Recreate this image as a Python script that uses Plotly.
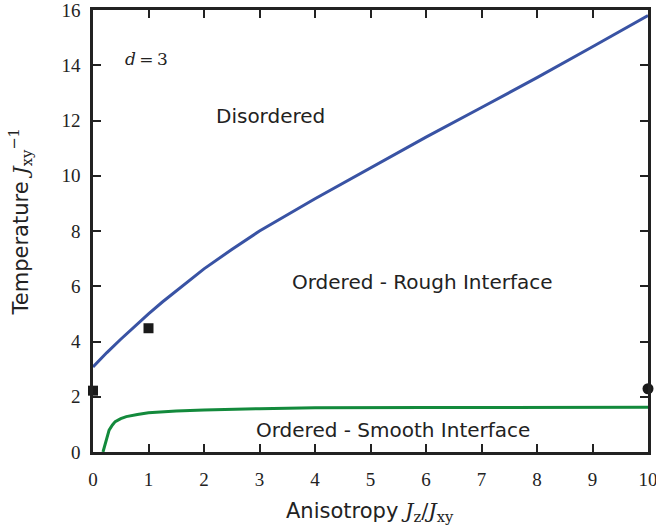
import plotly.graph_objects as go

# Data
blue_x = [0, 0.25, 0.5, 0.75, 1, 1.25, 1.5, 2, 2.5, 3, 4, 5, 6, 7, 8, 9, 10]
blue_y = [3.08, 3.6, 4.08, 4.55, 5.0, 5.43, 5.84, 6.63, 7.33, 8.0, 9.17, 10.3, 11.4, 12.47, 13.55, 14.67, 15.8]

green_x = [0.18, 0.29, 0.35, 0.4, 0.5, 0.6, 0.8, 1, 1.5, 2, 3, 4, 6, 8, 10]
green_y = [0.0, 0.79, 0.98, 1.1, 1.21, 1.28, 1.36, 1.42, 1.48, 1.52, 1.57, 1.6, 1.61, 1.62, 1.62]

sq_x = [0, 1]
sq_y = [2.22, 4.48]
circ_x = [10]
circ_y = [2.29]

x_ticks = list(range(0, 11))
y_ticks = list(range(0, 17, 2))

labels = [
    ("<i>d</i>\u2009=\u20093", 0.97, 14.23, "DejaVu Serif", 17),
    ("Disordered", 3.2, 12.18, "DejaVu Sans", 20),
    ("Ordered - Rough Interface", 5.93, 6.16, "DejaVu Sans", 20),
    ("Ordered - Smooth Interface", 5.4, 0.79, "DejaVu Sans", 20),
]

INK = "#222222"

fig = go.Figure()
fig.add_trace(go.Scatter(x=blue_x, y=blue_y, mode="lines", line=dict(color="#3953a4", width=3)))
fig.add_trace(go.Scatter(x=green_x, y=green_y, mode="lines", line=dict(color="#138a3c", width=3)))
fig.add_trace(go.Scatter(x=sq_x, y=sq_y, mode="markers", marker=dict(symbol="square", size=10, color="#1a1a1a"), cliponaxis=False))
fig.add_trace(go.Scatter(x=circ_x, y=circ_y, mode="markers", marker=dict(symbol="circle", size=11, color="#1a1a1a"), cliponaxis=False))

for text, x, y, fam, size in labels:
    fig.add_annotation(x=x, y=y, text=text, showarrow=False, xanchor="center", yanchor="middle",
                       font=dict(family=fam, size=size, color=INK))

serif = "font-family:'DejaVu Serif'"
fig.add_annotation(
    xref="paper", yref="paper", x=0.499, y=-0.135, xanchor="center", yanchor="middle", showarrow=False,
    text=f"Anisotropy <span style=\"{serif}\"><i>J</i><sub>z</sub>/<i>J</i><sub>xy</sub></span>",
    font=dict(family="DejaVu Sans", size=21, color=INK),
)
fig.add_annotation(
    xref="paper", yref="paper", x=-0.131, y=0.52, xanchor="center", yanchor="middle", showarrow=False,
    textangle=-90,
    text=f"Temperature <span style=\"{serif}\"><i>J</i><sub>xy</sub><sup>\u22121</sup></span>",
    font=dict(family="DejaVu Sans", size=21, color=INK),
)

axis_common = dict(
    showline=True, linecolor=INK, linewidth=2.5, mirror="ticks",
    ticks="inside", ticklen=8, tickwidth=1.5, tickcolor=INK,
    showgrid=False, zeroline=False, automargin=False,
    ticklabeloverflow="allow",
    tickfont=dict(family="Liberation Serif", size=19, color=INK),
)

fig.update_layout(
    width=656, height=532,
    margin=dict(l=93, r=8, t=10, b=80),
    plot_bgcolor="white", paper_bgcolor="white",
    showlegend=False,
    xaxis=dict(range=[0, 10], tickvals=x_ticks, ticktext=[str(v) for v in x_ticks],
               ticklabelstandoff=8, **axis_common),
    yaxis=dict(range=[0, 16], tickvals=y_ticks, ticktext=[str(v) for v in y_ticks],
               ticklabelstandoff=6, **axis_common),
)

fig.write_html("out.html")
